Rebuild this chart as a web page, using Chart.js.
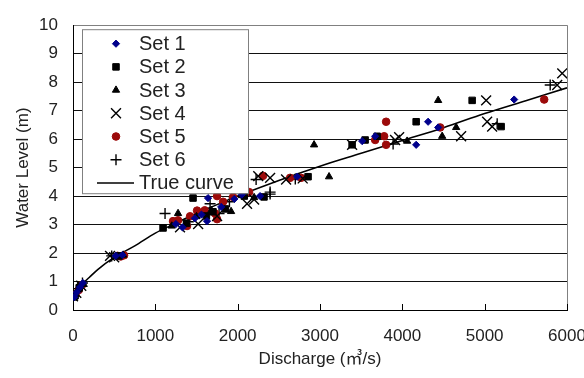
<!DOCTYPE html>
<html>
<head>
<meta charset="UTF-8">
<title>Water Level - Discharge</title>
<script src="https://cdn.jsdelivr.net/npm/chart.js@4.4.0/dist/chart.umd.min.js"></script>
<style>
    body { margin: 0; background: #fff; }
</style>
</head>
<body>
<canvas id="rating" width="584" height="378"></canvas>
<script>
    // Measured points per set: [discharge (m3/s), water level (m)]
    var set1 = [[15,0.45],[45,0.62],[85,0.8],[120,0.95],[520,1.9],[600,1.93],[1250,3.02],[1330,2.9],[1480,3.22],[1560,3.35],[1628,3.12],[1640,3.93],[1800,3.62],[1960,3.9],[2050,4.05],[2272,4.0],[2722,4.68],[3512,5.93],[3670,6.1],[4168,5.8],[4313,6.61],[4435,6.41],[5358,7.39]];
    var set2 = [[25,0.5],[75,0.78],[560,1.9],[1094,2.88],[1380,3.05],[1458,3.93],[1620,3.3],[1700,3.45],[1850,3.55],[2080,4.0],[2320,3.97],[2855,4.68],[3390,5.8],[3548,5.97],[3694,6.1],[4168,6.61],[4848,7.36],[5200,6.44]];
    var set3 = [[10,0.42],[65,0.72],[130,0.9],[610,1.93],[1200,2.95],[1276,3.39],[1500,3.28],[1680,3.5],[1920,3.46],[2050,4.02],[2200,3.95],[2928,5.8],[3110,4.68],[4058,5.93],[4435,7.36],[4484,6.1],[4654,6.41]];
    var set4 = [[0,0.48],[40,0.6],[100,0.85],[450,1.9],[500,1.85],[1300,2.9],[1520,3.02],[1750,3.3],[2114,3.73],[2200,3.88],[2250,4.7],[2394,4.64],[2588,4.58],[2790,4.62],[3390,5.8],[3912,5.97],[3961,6.07],[4714,6.1],[5018,7.36],[5030,6.61],[5091,6.44],[5881,7.9],[5942,8.31]];
    var set5 = [[30,0.55],[70,0.7],[110,0.88],[540,1.9],[580,1.88],[620,1.92],[1215,3.12],[1276,3.15],[1385,2.95],[1422,3.29],[1507,3.49],[1600,3.5],[1725,3.39],[1750,3.19],[1750,4.0],[1823,3.8],[1944,3.97],[2139,4.14],[2308,4.71],[2637,4.64],[2770,4.64],[3670,5.97],[3779,6.1],[3803,6.61],[3803,5.8],[4460,6.41],[5723,7.39]];
    var set6 = [[5,0.55],[55,0.75],[115,0.95],[470,1.9],[1118,3.39],[1400,3.1],[1665,3.73],[1774,3.39],[1900,3.8],[2224,4.58],[2394,4.14],[2394,4.07],[2700,4.6],[3888,5.83],[5152,6.54],[5796,7.9]];

    // True rating curve
    var trueQ = [0, 50, 100, 200, 300, 500, 750, 1000, 1250, 1500, 1750, 2000, 2500, 3000, 3500, 4000, 4500, 5000, 5500, 6000];
    var trueH = [0.4, 0.72, 0.88, 1.15, 1.42, 1.85, 2.25, 2.7, 3.05, 3.4, 3.7, 4.0, 4.55, 5.05, 5.5, 5.95, 6.4, 6.9, 7.35, 7.8];

    var xTicks = [0, 1000, 2000, 3000, 4000, 5000, 6000];
    var yTicks = [0, 1, 2, 3, 4, 5, 6, 7, 8, 9, 10];

    var FONT = "'Liberation Sans', 'Noto Sans CJK KR', sans-serif";
    var RED = '#9c0a0a';
    var NAVY = '#00008c';

    function toPoints(arr) {
        return arr.map(function(p) { return { x: p[0], y: p[1] }; });
    }

    var curve = trueQ.map(function(q, i) { return { x: q, y: trueH[i] }; });

    // legend drawn inside the plot, top-left
    var legendBox = {
        id: 'legendBox',
        afterDatasetsDraw: function(chart) {
            var ctx = chart.ctx;
            var a = chart.chartArea;
            var left = a.left + 9, top = a.top + 4, w = 166, h = 164;
            ctx.save();
            ctx.fillStyle = '#fff';
            ctx.fillRect(left, top, w, h);
            ctx.strokeStyle = '#808080';
            ctx.lineWidth = 1;
            ctx.strokeRect(left + 0.5, top + 0.5, w, h);
            ctx.font = '20px ' + FONT;
            ctx.textBaseline = 'middle';
            chart.data.datasets.forEach(function(ds, i) {
                var y = top + 14.5 + i * 23.2;
                if (ds.showLine) {
                    ctx.strokeStyle = '#000';
                    ctx.lineWidth = 1.5;
                    ctx.beginPath();
                    ctx.moveTo(left + 15, y);
                    ctx.lineTo(left + 52, y);
                    ctx.stroke();
                } else {
                    ctx.fillStyle = ds.backgroundColor;
                    ctx.strokeStyle = ds.borderColor;
                    ctx.lineWidth = ds.borderWidth;
                    Chart.helpers.drawPoint(ctx, {
                        pointStyle: ds.pointStyle,
                        radius: ds.pointRadius,
                        rotation: 0,
                        borderWidth: ds.borderWidth
                    }, left + 34, y);
                }
                ctx.fillStyle = '#222';
                ctx.fillText(ds.label, left + 57, y + 1);
            });
            ctx.restore();
        }
    };

    // gray right edge and inward x ticks
    var frame = {
        id: 'frame',
        beforeDatasetsDraw: function(chart) {
            var ctx = chart.ctx;
            var a = chart.chartArea;
            var xs = chart.scales.x;
            ctx.save();
            ctx.strokeStyle = '#808080';
            ctx.lineWidth = 1;
            ctx.beginPath();
            ctx.moveTo(a.right + 0.5, a.top);
            ctx.lineTo(a.right + 0.5, a.bottom);
            ctx.stroke();
            ctx.strokeStyle = '#000';
            ctx.beginPath();
            xTicks.forEach(function(v) {
                var px = Math.round(xs.getPixelForValue(v)) + 0.5;
                ctx.moveTo(px, a.bottom);
                ctx.lineTo(px, a.bottom - 6);
            });
            ctx.stroke();
            ctx.restore();
        }
    };

    var ctx = document.getElementById('rating').getContext('2d');
    var chart = new Chart(ctx, {
        type: 'scatter',
        data: {
            datasets: [
                { label: 'Set 1', data: toPoints(set1), pointStyle: 'rectRot', pointRadius: 3.6, backgroundColor: NAVY, borderColor: NAVY, borderWidth: 1 },
                { label: 'Set 2', data: toPoints(set2), pointStyle: 'rect', pointRadius: 4.6, backgroundColor: '#000', borderColor: '#000', borderWidth: 1 },
                { label: 'Set 3', data: toPoints(set3), pointStyle: 'triangle', pointRadius: 4.2, backgroundColor: '#000', borderColor: '#000', borderWidth: 1 },
                { label: 'Set 4', data: toPoints(set4), pointStyle: 'crossRot', pointRadius: 7, backgroundColor: '#000', borderColor: '#000', borderWidth: 1.4 },
                { label: 'Set 5', data: toPoints(set5), pointStyle: 'circle', pointRadius: 3.8, backgroundColor: RED, borderColor: RED, borderWidth: 1 },
                { label: 'Set 6', data: toPoints(set6), pointStyle: 'cross', pointRadius: 5.5, backgroundColor: '#000', borderColor: '#000', borderWidth: 1.4 },
                { label: 'True curve', data: curve, showLine: true, pointRadius: 0, borderColor: '#000', backgroundColor: '#000', borderWidth: 1.6, cubicInterpolationMode: 'monotone' }
            ]
        },
        options: {
            responsive: false,
            animation: false,
            layout: { padding: { left: 0, right: 17, top: 15, bottom: 0 } },
            plugins: {
                legend: { display: false },
                tooltip: { enabled: false }
            },
            scales: {
                x: {
                    type: 'linear',
                    min: 0,
                    max: 6000,
                    afterBuildTicks: function(scale) {
                        scale.ticks = xTicks.map(function(v) { return { value: v }; });
                    },
                    afterFit: function(scale) {
                        scale.height = 68;
                        scale.paddingRight = 0;
                    },
                    grid: { display: false },
                    border: { display: true, color: '#000', width: 1 },
                    ticks: {
                        color: '#222', padding: 8, maxRotation: 0,
                        font: { family: FONT, size: 17 },
                        callback: function(v) { return String(v); }
                    },
                    title: { display: true, text: 'Discharge (㎥/s)', color: '#222', padding: { top: 4, bottom: 8 }, font: { family: FONT, size: 17 } }
                },
                y: {
                    min: 0,
                    max: 10,
                    afterBuildTicks: function(scale) {
                        scale.ticks = yTicks.map(function(v) { return { value: v }; });
                    },
                    afterFit: function(scale) {
                        scale.width = 73;
                    },
                    grid: {
                        drawTicks: false,
                        color: function(c) { return c.tick && c.tick.value === 10 ? '#808080' : '#111'; },
                        lineWidth: 1
                    },
                    border: { display: true, color: '#000', width: 1 },
                    ticks: { color: '#222', padding: 15, font: { family: FONT, size: 17 } },
                    title: { display: true, text: 'Water Level (m)', color: '#222', padding: { top: 13, bottom: 0 }, font: { family: FONT, size: 17 } }
                }
            }
        },
        plugins: [frame, legendBox]
    });
</script>
</body>
</html>
